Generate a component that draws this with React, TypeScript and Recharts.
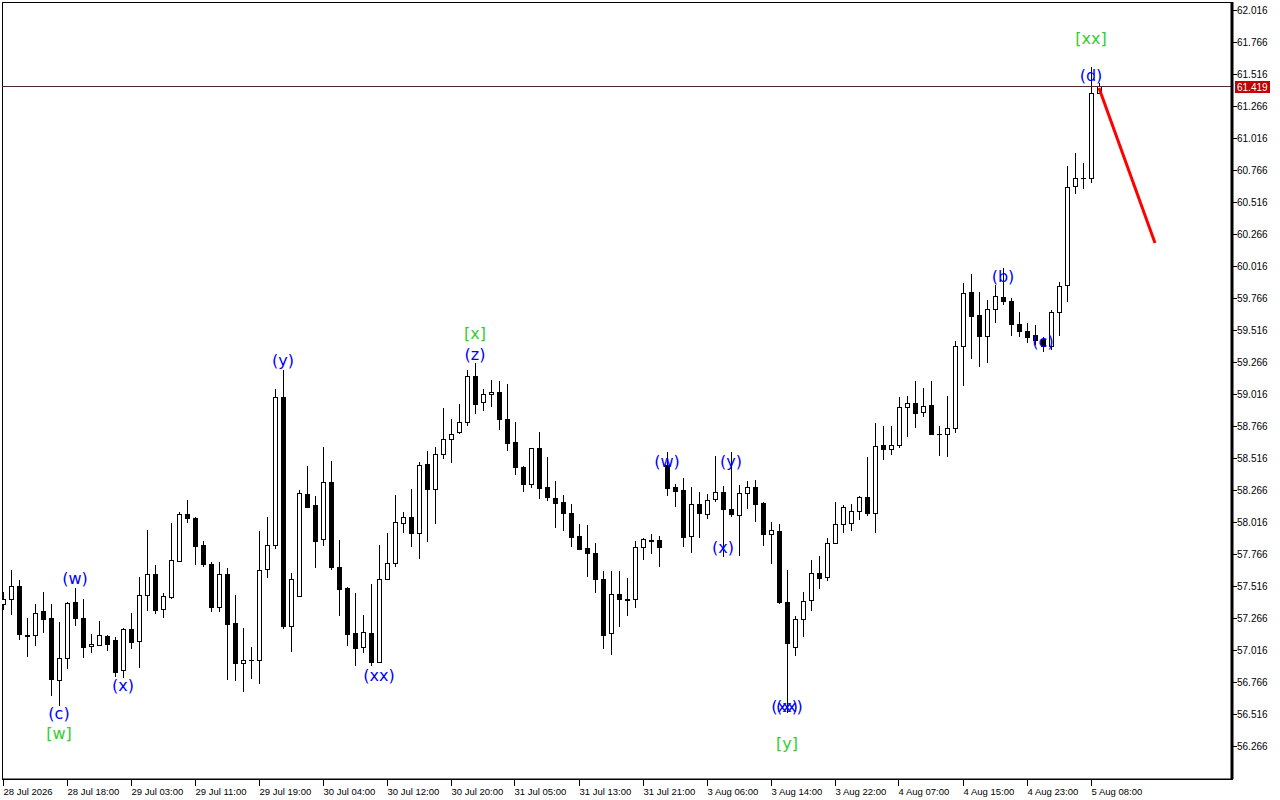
import React from "react";
import {
  ComposedChart,
  Bar,
  Line,
  Scatter,
  XAxis,
  YAxis,
  ReferenceLine,
  ReferenceArea,
} from "recharts";

// H1 bars, oldest first
const opens = [
  57.375, 57.415, 57.516, 57.125, 57.133, 57.32, 57.266, 56.781, 56.953, 57.391,
  57.266, 57.047, 57.055, 57.125, 57.094, 56.859, 57.18, 57.086, 57.445, 57.609,
  57.336, 57.43, 57.711, 58.078, 58.047, 57.836, 57.688, 57.352, 57.609, 57.227,
  56.914, 56.938, 56.938, 57.648, 57.836, 58.992, 57.203, 57.438, 58.234, 58.149,
  57.883, 58.328, 57.664, 57.5, 57.148, 57.039, 57.148, 56.922, 57.57, 57.696,
  58.008, 58.055, 57.93, 58.469, 58.274, 58.547, 58.664, 58.719, 58.797, 59.156,
  58.953, 59.016, 59.031, 58.821, 58.641, 58.445, 58.313, 58.594, 58.289, 58.203,
  58.172, 58.086, 57.906, 57.813, 57.774, 57.57, 57.148, 57.453, 57.415, 57.415,
  57.82, 57.875, 57.875, 58.461, 58.289, 58.266, 57.906, 58.157, 58.078, 58.196,
  58.25, 58.118, 58.071, 58.242, 58.289, 58.165, 57.922, 57.946, 57.391, 57.039,
  57.258, 57.406, 57.617, 57.586, 57.852, 58.0, 58.008, 58.102, 58.211, 58.086,
  58.617, 58.586, 58.617, 58.914, 58.946, 58.875, 58.93, 58.703, 58.703, 58.75,
  59.391, 59.813, 59.633, 59.469, 59.68, 59.774, 59.742, 59.563, 59.508, 59.477,
  59.446, 59.391, 59.656, 59.867, 60.641, 60.703, 60.703, 61.367,
];
const highs = [
  57.469, 57.641, 57.563, 57.266, 57.375, 57.469, 57.375, 57.234, 57.391, 57.5,
  57.415, 57.141, 57.242, 57.13, 57.117, 57.188, 57.305, 57.586, 57.953, 57.68,
  57.461, 58.008, 58.094, 58.188, 58.055, 57.867, 57.703, 57.703, 57.656, 57.445,
  57.188, 57.039, 57.945, 58.055, 59.055, 59.203, 57.617, 58.266, 58.453, 58.219,
  58.602, 58.492, 57.875, 57.508, 57.461, 57.289, 57.531, 57.836, 57.93, 58.227,
  58.094, 58.274, 58.485, 58.571, 58.602, 58.906, 58.821, 58.938, 59.203, 59.258,
  59.055, 59.125, 59.117, 59.094, 58.797, 58.453, 58.594, 58.719, 58.524, 58.336,
  58.227, 58.157, 58.0, 57.993, 57.852, 57.633, 57.633, 57.633, 57.578, 57.867,
  57.891, 57.922, 57.907, 58.563, 58.313, 58.36, 58.289, 58.25, 58.235, 58.532,
  58.297, 58.563, 58.305, 58.336, 58.344, 58.17, 58.016, 58.0, 57.641, 57.281,
  57.469, 57.719, 57.75, 57.891, 58.172, 58.149, 58.157, 58.219, 58.524, 58.789,
  58.766, 58.766, 58.992, 59.0, 59.117, 59.063, 59.117, 58.766, 59.0, 59.43,
  59.883, 59.953, 59.813, 59.75, 59.867, 60.0, 59.766, 59.656, 59.57, 59.555,
  59.461, 59.672, 59.891, 60.797, 60.899, 60.82, 61.571, 61.446,
];
const lows = [
  57.328, 57.289, 57.094, 56.961, 57.047, 57.148, 56.656, 56.578, 56.867, 57.203,
  56.953, 56.992, 57.047, 57.008, 56.805, 56.797, 57.023, 56.875, 57.32, 57.297,
  57.266, 57.415, 57.7, 58.008, 57.68, 57.664, 57.313, 57.313, 56.781, 56.773,
  56.688, 56.789, 56.75, 57.578, 57.805, 57.18, 57.0, 57.43, 58.13, 57.656,
  57.828, 57.641, 57.281, 57.047, 56.891, 56.992, 56.891, 56.914, 57.56, 57.664,
  57.93, 57.82, 57.727, 57.859, 58.0, 58.508, 58.477, 58.703, 58.766, 58.86,
  58.883, 58.914, 58.735, 58.571, 58.383, 58.25, 58.281, 58.196, 58.18, 57.969,
  57.946, 57.82, 57.797, 57.586, 57.461, 57.023, 56.976, 57.195, 57.281, 57.344,
  57.719, 57.766, 57.664, 58.219, 58.133, 57.82, 57.774, 57.891, 58.039, 58.172,
  57.743, 58.055, 57.75, 58.118, 58.016, 57.828, 57.688, 57.375, 56.523, 56.969,
  57.117, 57.32, 57.493, 57.555, 57.845, 57.93, 57.946, 58.032, 58.063, 57.93,
  58.5, 58.539, 58.594, 58.68, 58.75, 58.836, 58.703, 58.532, 58.524, 58.711,
  59.078, 59.289, 59.227, 59.258, 59.57, 59.711, 59.469, 59.461, 59.414, 59.399,
  59.344, 59.36, 59.469, 59.735, 60.578, 60.617, 60.664, 61.36,
];
const closes = [
  57.415, 57.516, 57.141, 57.133, 57.305, 57.258, 56.789, 56.953, 57.383, 57.266,
  57.039, 57.063, 57.133, 57.063, 56.844, 57.18, 57.078, 57.445, 57.609, 57.328,
  57.438, 57.719, 58.078, 58.047, 57.828, 57.688, 57.352, 57.609, 57.219, 56.914,
  56.938, 56.94, 57.641, 57.836, 58.992, 57.203, 57.57, 58.242, 58.133, 57.867,
  58.328, 57.664, 57.493, 57.141, 57.031, 57.156, 56.922, 57.57, 57.696, 58.016,
  58.055, 57.93, 58.461, 58.274, 58.547, 58.664, 58.703, 58.797, 59.156, 58.938,
  59.016, 59.031, 58.821, 58.633, 58.445, 58.313, 58.594, 58.281, 58.211, 58.165,
  58.086, 57.899, 57.805, 57.774, 57.57, 57.133, 57.453, 57.415, 57.41, 57.82,
  57.883, 57.87, 57.82, 58.281, 58.258, 57.899, 58.157, 58.086, 58.188, 58.25,
  58.118, 58.078, 58.242, 58.289, 58.157, 57.922, 57.953, 57.391, 57.07, 57.258,
  57.399, 57.617, 57.578, 57.852, 58.0, 58.133, 58.102, 58.211, 58.086, 58.61,
  58.586, 58.617, 58.914, 58.946, 58.867, 58.922, 58.703, 58.7, 58.75, 59.391,
  59.805, 59.625, 59.469, 59.68, 59.781, 59.742, 59.563, 59.508, 59.461, 59.438,
  59.391, 59.656, 59.86, 60.633, 60.703, 60.7, 61.367, 61.419,
];

// one label every 8 bars
const timeLabels = [
  "28 Jul 2026", "28 Jul 18:00", "29 Jul 03:00", "29 Jul 11:00", "29 Jul 19:00",
  "30 Jul 04:00", "30 Jul 12:00", "30 Jul 20:00", "31 Jul 05:00", "31 Jul 13:00",
  "31 Jul 21:00", "3 Aug 06:00", "3 Aug 14:00", "3 Aug 22:00", "4 Aug 07:00",
  "4 Aug 15:00", "4 Aug 23:00", "5 Aug 08:00",
];

const priceTicks = [
  56.266, 56.516, 56.766, 57.016, 57.266, 57.516, 57.766, 58.016, 58.266, 58.516,
  58.766, 59.016, 59.266, 59.516, 59.766, 60.016, 60.266, 60.516, 60.766, 61.016,
  61.266, 61.516, 61.766, 62.016,
];

const lastPrice = 61.419;

// forecast leg drawn in red
const forecast = [
  { i: 137, v: 61.406 },
  { i: 144, v: 60.196 },
];

// wave counts: minor = blue (..), major = green [..]
const waveLabels = [
  { i: 7, p: 56.516, text: "(c)", kind: "minor" },
  { i: 7, p: 56.36, text: "[w]", kind: "major" },
  { i: 9, p: 57.571, text: "(w)", kind: "minor" },
  { i: 15, p: 56.735, text: "(x)", kind: "minor" },
  { i: 35, p: 59.274, text: "(y)", kind: "minor" },
  { i: 47, p: 56.813, text: "(xx)", kind: "minor" },
  { i: 59, p: 59.485, text: "[x]", kind: "major" },
  { i: 59, p: 59.328, text: "(z)", kind: "minor" },
  { i: 83, p: 58.492, text: "(w)", kind: "minor" },
  { i: 90, p: 57.813, text: "(x)", kind: "minor" },
  { i: 91, p: 58.492, text: "(y)", kind: "minor" },
  { i: 98, p: 56.578, text: "(xx)", kind: "minor" },
  { i: 98, p: 56.578, text: "(x)", kind: "minor" },
  { i: 98, p: 56.289, text: "[y]", kind: "major" },
  { i: 125, p: 59.93, text: "(b)", kind: "minor" },
  { i: 130, p: 59.422, text: "(c)", kind: "minor" },
  { i: 136, p: 61.789, text: "[xx]", kind: "major" },
  { i: 136, p: 61.5, text: "(d)", kind: "minor" },
];

const candles = opens.map((o, i) => ({
  i,
  open: o,
  high: highs[i],
  low: lows[i],
  close: closes[i],
  range: [lows[i], highs[i]],
}));

const xTicks = timeLabels.map((_, k) => k * 8);
const X_DOMAIN: [number, number] = [-0.125, 153.625];
const Y_DOMAIN: [number, number] = [56.008, 62.078];
const AXIS_FONT = "'Liberation Sans', Arial, sans-serif";
const WAVE_COLORS: Record<string, string> = { minor: "#0000ff", major: "#32cd32" };

function Candle(props: any) {
  const { x, y, width, height, payload } = props;
  if (!payload || height == null) return null;
  const { open, close, high, low } = payload;
  const cx = Math.floor(x + width / 2);
  const span = high - low;
  const toY = (p: number) => (span > 0 ? y + ((high - p) / span) * height : y);
  const top = Math.round(Math.min(toY(open), toY(close)));
  const bot = Math.round(Math.max(toY(open), toY(close)));
  const up = close >= open;
  return (
    <g>
      <line
        x1={cx + 0.5}
        x2={cx + 0.5}
        y1={Math.round(y)}
        y2={Math.round(y + height)}
        stroke="#000"
        strokeWidth={1}
      />
      {bot - top < 1 ? (
        <line x1={cx - 2} x2={cx + 3} y1={top + 0.5} y2={top + 0.5} stroke="#000" />
      ) : (
        <rect
          x={cx - 1.5}
          y={top + 0.5}
          width={4}
          height={bot - top}
          fill={up ? "#fff" : "#000"}
          stroke="#000"
          strokeWidth={1}
        />
      )}
    </g>
  );
}

function XTick({ x, y, payload }: any) {
  const label = timeLabels[Math.round(payload.value / 8)];
  const px = Math.floor(x) + 0.5;
  return (
    <g>
      <line x1={px} x2={px} y1={y + 1} y2={y + 7} stroke="#000" />
      <text x={px} y={y + 16} fontSize={9.5} fontFamily={AXIS_FONT} fill="#000">
        {label}
      </text>
    </g>
  );
}

function YTick({ x, y, payload }: any) {
  const py = Math.round(y) + 0.5;
  return (
    <g>
      <line x1={x + 1} x2={x + 5} y1={py} y2={py} stroke="#000" />
      <text x={x + 5} y={py + 3.5} fontSize={10} fontFamily={AXIS_FONT} fill="#000">
        {payload.value.toFixed(3)}
      </text>
    </g>
  );
}

function WaveLabel(props: any) {
  const { cx, cy, payload } = props;
  return (
    <text
      x={cx}
      y={cy}
      textAnchor="middle"
      dominantBaseline="central"
      fontSize={16}
      fontFamily="'DejaVu Sans', Verdana, sans-serif"
      fill={WAVE_COLORS[payload.kind]}
    >
      {payload.text}
    </text>
  );
}

function PriceTag({ viewBox }: any) {
  const { x, y, width } = viewBox;
  const left = x + width + 3;
  return (
    <g>
      <rect x={left} y={Math.round(y) - 5} width={35} height={12} fill="#c40000" />
      <text
        x={left + 2}
        y={Math.round(y) + 5}
        fontSize={10}
        fontFamily={AXIS_FONT}
        fill="#fff"
      >
        {lastPrice.toFixed(3)}
      </text>
    </g>
  );
}

export default function App() {
  return (
    <div
      style={{
        position: "absolute",
        left: 0,
        top: 0,
        width: 1280,
        height: 800,
        background: "#fff",
      }}
    >
      <ComposedChart
        width={1280}
        height={800}
        data={candles}
        margin={{ top: 2, left: 2, right: 0, bottom: 0 }}
      >
        <ReferenceArea
          x1={X_DOMAIN[0]}
          x2={X_DOMAIN[1]}
          y1={Y_DOMAIN[0]}
          y2={Y_DOMAIN[1]}
          fill="none"
          stroke="#000"
          strokeWidth={1}
          ifOverflow="visible"
          shapeRendering="crispEdges"
        />
        <XAxis
          dataKey="i"
          type="number"
          domain={X_DOMAIN}
          allowDataOverflow
          ticks={xTicks}
          interval={0}
          tick={<XTick />}
          tickLine={false}
          tickSize={0}
          tickMargin={0}
          axisLine={{ stroke: "#000" }}
          height={21}
        />
        <YAxis
          orientation="right"
          type="number"
          domain={Y_DOMAIN}
          allowDataOverflow
          ticks={priceTicks}
          interval={0}
          tick={<YTick />}
          tickLine={false}
          tickSize={0}
          tickMargin={0}
          axisLine={{ stroke: "#000", strokeWidth: 3 }}
          width={48}
        />
        <ReferenceLine
          y={lastPrice}
          stroke="#4a2a2a"
          strokeWidth={1}
          shapeRendering="crispEdges"
          label={<PriceTag />}
        />
        <Bar
          dataKey="range"
          barSize={6}
          shape={<Candle />}
          isAnimationActive={false}
        />
        <Line
          data={forecast}
          dataKey="v"
          stroke="#ff0000"
          strokeWidth={3}
          dot={false}
          isAnimationActive={false}
        />
        <Scatter
          data={waveLabels}
          dataKey="p"
          shape={<WaveLabel />}
          isAnimationActive={false}
        />
      </ComposedChart>
    </div>
  );
}
